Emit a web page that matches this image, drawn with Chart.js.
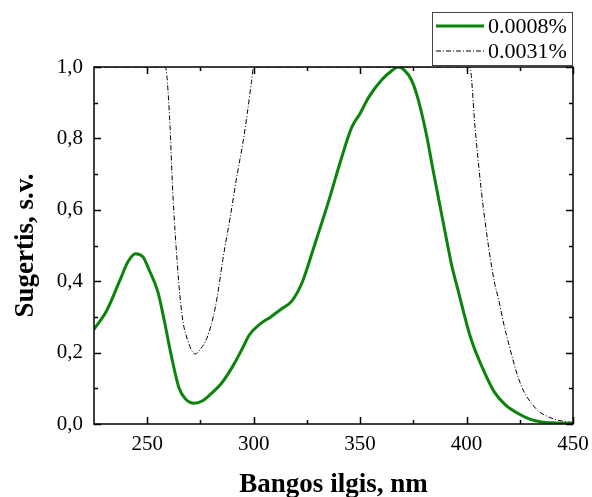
<!DOCTYPE html>
<html>
<head>
<meta charset="utf-8">
<script src="https://cdn.jsdelivr.net/npm/chart.js@4"></script>
<style>
  body { margin: 0; background: #fff; }
  #wrap { width: 592px; height: 497px; }
</style>
</head>
<body>
<div id="wrap"><canvas id="myChart" width="592" height="497"></canvas></div>
<script>
// spectrum 0.0008%
let greenX = [225, 231, 237, 241, 244.5, 248, 251, 255, 258, 261, 265, 268, 272, 276, 280, 285, 290, 295, 298, 303,
              308, 313, 318, 323, 328, 335, 341, 346, 350, 354, 360, 365, 368, 371, 374, 377, 381, 384, 387, 390,
              393, 396, 402, 408, 413, 418, 424, 430, 435, 442, 450];
let greenY = [0.265, 0.318, 0.40, 0.455, 0.477, 0.468, 0.43, 0.37, 0.29, 0.20, 0.10, 0.07, 0.058, 0.065, 0.085, 0.115, 0.16, 0.215, 0.25, 0.28,
              0.30, 0.322, 0.345, 0.40, 0.49, 0.62, 0.74, 0.83, 0.87, 0.915, 0.963, 0.99, 1.0, 0.99, 0.965, 0.915, 0.815, 0.72, 0.627, 0.535,
              0.445, 0.375, 0.24, 0.15, 0.09, 0.055, 0.03, 0.013, 0.006, 0.003, 0.002];

// spectrum 0.0031%
let dashX = [225, 255, 258.5, 260.5, 262, 264, 265.5, 267, 269, 271, 272.5, 275, 278, 281, 283, 285.5, 289, 292, 295, 297,
             299, 300, 302, 401.5, 404, 407, 410.5, 413, 415, 417.5, 420, 424, 427, 430.5, 434, 437, 442, 447.5, 450];
let dashY = [1.0, 1.0, 1.0, 0.86, 0.65, 0.46, 0.35, 0.28, 0.235, 0.205, 0.196, 0.21, 0.24, 0.30, 0.36, 0.46, 0.58, 0.69, 0.79, 0.87,
             0.96, 1.0, 1.0, 1.0, 0.83, 0.65, 0.49, 0.40, 0.35, 0.28, 0.22, 0.135, 0.09, 0.058, 0.035, 0.024, 0.012, 0.006, 0.004];

let seriesNames = ['0.0008%', '0.0031%'];

let xTicks = [250, 300, 350, 400, 450];
let xMinorTicks = [275, 325, 375, 425];
let yTicks = [0, 0.2, 0.4, 0.6, 0.8, 1.0];
let yTickLabels = ['0,0', '0,2', '0,4', '0,6', '0,8', '1,0'];
let yMinorTicks = [0.1, 0.3, 0.5, 0.7, 0.9];

function toPoints(xs, ys)
{
    let pts = [];
    for (let i = 0; i < xs.length; i++) pts.push({x: xs[i], y: ys[i]});
    return pts;
}

const serif = "'Liberation Serif', 'Times New Roman', serif";

// box frame + inward ticks on all four sides
const frameTicks = {
    id: 'frameTicks',
    afterDatasetsDraw(chart)
    {
        let ctx = chart.ctx;
        let a = chart.chartArea;
        let xs = chart.scales.x, ys = chart.scales.y;
        ctx.save();
        ctx.strokeStyle = '#000';
        ctx.lineWidth = 1.5;
        ctx.strokeRect(a.left, a.top, a.right - a.left, a.bottom - a.top);
        ctx.beginPath();
        let tick = (list, len) => {
            list.forEach(v => {
                let px = Math.round(xs.getPixelForValue(v)) + 0.5;
                ctx.moveTo(px, a.bottom); ctx.lineTo(px, a.bottom - len);
                ctx.moveTo(px, a.top); ctx.lineTo(px, a.top + len);
            });
        };
        let tickY = (list, len) => {
            list.forEach(v => {
                let py = Math.round(ys.getPixelForValue(v)) + 0.5;
                ctx.moveTo(a.left, py); ctx.lineTo(a.left + len, py);
                ctx.moveTo(a.right, py); ctx.lineTo(a.right - len, py);
            });
        };
        tick(xTicks, 7);
        tick(xMinorTicks, 4);
        tickY(yTicks, 7);
        tickY(yMinorTicks, 4);
        ctx.stroke();
        ctx.restore();
    }
};

// legend box above the top right corner
const boxLegend = {
    id: 'boxLegend',
    afterDraw(chart)
    {
        let ctx = chart.ctx;
        let a = chart.chartArea;
        let w = 140, h = 53;
        let left = a.right - w - 1, top = a.top - h - 2;
        ctx.save();
        ctx.fillStyle = '#fff';
        ctx.fillRect(left, top, w, h);
        ctx.strokeStyle = '#444';
        ctx.lineWidth = 1;
        ctx.strokeRect(left + 0.5, top + 0.5, w, h);
        chart.data.datasets.forEach((ds, i) => {
            let cy = top + 14 + i * 25;
            ctx.beginPath();
            ctx.strokeStyle = ds.borderColor;
            ctx.lineWidth = ds.borderWidth;
            ctx.setLineDash(ds.borderDash || []);
            ctx.moveTo(left + 4, cy);
            ctx.lineTo(left + 52, cy);
            ctx.stroke();
            ctx.setLineDash([]);
            ctx.fillStyle = '#000';
            ctx.font = '22px ' + serif;
            ctx.textBaseline = 'middle';
            ctx.fillText(ds.label, left + 56, cy + 1);
        });
        ctx.restore();
    }
};

new Chart(document.getElementById('myChart'),
    {
        type: 'line',
        data:
        {
            datasets: [
                {
                    label: seriesNames[0],
                    data: toPoints(greenX, greenY),
                    borderColor: '#0a840a',
                    borderWidth: 3,
                    pointRadius: 0,
                    cubicInterpolationMode: 'monotone',
                    fill: false
                },
                {
                    label: seriesNames[1],
                    data: toPoints(dashX, dashY),
                    borderColor: '#000',
                    borderWidth: 1,
                    borderDash: [5, 2, 1, 2],
                    pointRadius: 0,
                    cubicInterpolationMode: 'monotone',
                    fill: false
                }
            ]
        },
        options:
        {
            responsive: false,
            animation: false,
            layout: { padding: { top: 67, right: 19, left: 0, bottom: 0 } },
            plugins: {
                legend: { display: false },
                tooltip: { enabled: false }
            },
            scales: {
                x: {
                    type: 'linear',
                    min: 225,
                    max: 450,
                    afterBuildTicks: (s) => { s.ticks = xTicks.map(v => ({value: v})); },
                    afterFit: (s) => { s.height = 73; s.paddingLeft = 0; s.paddingRight = 0; },
                    grid: { display: false, drawTicks: false },
                    border: { display: false },
                    ticks: {
                        padding: 8,
                        maxRotation: 0,
                        color: '#000',
                        font: { family: serif, size: 21 }
                    },
                    title: {
                        display: true,
                        text: 'Bangos ilgis, nm',
                        color: '#000',
                        font: { family: serif, size: 27, weight: 'bold' },
                        padding: { top: 5, bottom: -4 }
                    }
                },
                y: {
                    min: 0,
                    max: 1,
                    afterBuildTicks: (s) => { s.ticks = yTicks.map(v => ({value: v})); },
                    afterFit: (s) => { s.width = 94; },
                    grid: { display: false, drawTicks: false },
                    border: { display: false },
                    ticks: {
                        padding: 11,
                        color: '#000',
                        font: { family: serif, size: 21 },
                        callback: (v) => yTickLabels[yTicks.indexOf(v)]
                    },
                    title: {
                        display: true,
                        text: 'Sugertis, s.v.',
                        color: '#000',
                        font: { family: serif, size: 27, weight: 'bold' },
                        padding: { top: 10, bottom: 0 }
                    }
                }
            }
        },
        plugins: [frameTicks, boxLegend]
    }
);
</script>
</body>
</html>
